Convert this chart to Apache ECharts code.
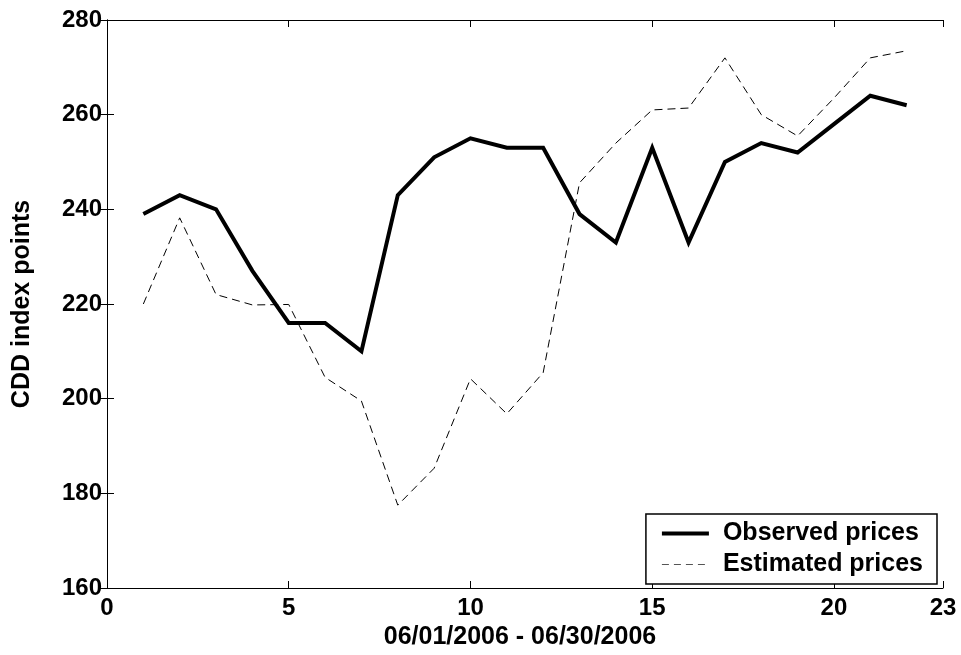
<!DOCTYPE html>
<html>
<head>
<meta charset="utf-8">
<script src="https://cdn.jsdelivr.net/npm/echarts@6/dist/echarts.min.js"></script>
<style>
  html, body { margin: 0; padding: 0; background: #fff; }
  #main { width: 961px; height: 655px; }
</style>
</head>
<body>
<div id="main"></div>
<script>
var days = [1, 2, 3, 4, 5, 6, 7, 8, 9, 10, 11, 12, 13, 14, 15, 16, 17, 18, 19, 20, 21, 22];
var observed = [239, 243, 240, 227, 216, 216, 210, 243, 251, 255, 253, 253, 239, 233, 253, 233, 250, 254, 252, 258, 264, 262];
var estimated = [220, 238.2, 222, 219.8, 219.9, 204.5, 199.5, 177.5, 185.3, 204.2, 196.8, 205.5, 245.6, 254, 261, 261.4, 272, 260, 255.5, 263.5, 272, 273.5];
var seriesNames = ['Observed prices', 'Estimated prices'];

var font = 'Liberation Sans, Arial, sans-serif';

function pairs(vals) {
  var out = [];
  for (var i = 0; i < days.length; i++) {
    out.push([days[i], vals[i]]);
  }
  return out;
}

var chart = echarts.init(document.getElementById('main'));

var axisLine = { show: true, lineStyle: { color: '#000', width: 1 } };
var tick = { show: true, inside: true, length: 7, lineStyle: { color: '#000' } };

var option = {
  backgroundColor: '#fff',
  animation: false,
  grid: {
    left: 107,
    right: 18,
    top: 20,
    bottom: 65
  },
  legend: {
    orient: 'vertical',
    right: 24,
    bottom: 71,
    padding: [7, 14, 7, 14],
    itemGap: 6,
    itemWidth: 47,
    itemHeight: 14,
    backgroundColor: '#fff',
    borderColor: '#000',
    borderWidth: 1.5,
    borderRadius: 0,
    itemStyle: { opacity: 0 },
    data: [
      { name: seriesNames[0], lineStyle: { width: 4, color: '#000' } },
      { name: seriesNames[1], lineStyle: { width: 1, color: '#555', type: [7, 5] } }
    ],
    textStyle: {
      fontFamily: font,
      fontWeight: 'bold',
      fontSize: 25,
      color: '#000',
      padding: [0, 0, 0, 9]
    }
  },
  xAxis: [{
    type: 'value',
    min: 0,
    max: 23,
    interval: 5,
    name: '06/01/2006 - 06/30/2006',
    nameLocation: 'middle',
    nameGap: 37,
    nameTextStyle: {
      fontFamily: font,
      fontWeight: 'bold',
      fontSize: 25,
      color: '#000',
      padding: [0, 10, 0, 0]
    },
    axisLine: axisLine,
    axisTick: tick,
    splitLine: { show: false },
    axisLabel: {
      margin: 8,
      fontFamily: font,
      fontWeight: 'bold',
      fontSize: 24,
      color: '#000'
    }
  }, {
    type: 'value',
    position: 'top',
    min: 0,
    max: 23,
    interval: 5,
    axisLine: axisLine,
    axisTick: tick,
    splitLine: { show: false },
    axisLabel: { show: false }
  }],
  yAxis: [{
    type: 'value',
    min: 160,
    max: 280,
    interval: 20,
    name: 'CDD index points',
    nameLocation: 'middle',
    nameGap: 72,
    nameTextStyle: {
      fontFamily: font,
      fontWeight: 'bold',
      fontSize: 25,
      color: '#000'
    },
    axisLine: axisLine,
    axisTick: tick,
    splitLine: { show: false },
    axisLabel: {
      margin: 5,
      fontFamily: font,
      fontWeight: 'bold',
      fontSize: 24,
      color: '#000'
    }
  }, {
    type: 'value',
    position: 'right',
    min: 160,
    max: 280,
    interval: 20,
    axisLine: axisLine,
    axisTick: tick,
    splitLine: { show: false },
    axisLabel: { show: false }
  }],
  series: [{
    name: seriesNames[0],
    type: 'line',
    data: pairs(observed),
    symbol: 'none',
    color: '#000',
    lineStyle: { color: '#000', width: 4, type: 'solid', join: 'miter' },
    z: 3
  }, {
    name: seriesNames[1],
    type: 'line',
    data: pairs(estimated),
    symbol: 'none',
    color: '#000',
    lineStyle: { color: '#000', width: 1, type: [8, 5] },
    z: 2
  }]
};

chart.setOption(option);
</script>
</body>
</html>
